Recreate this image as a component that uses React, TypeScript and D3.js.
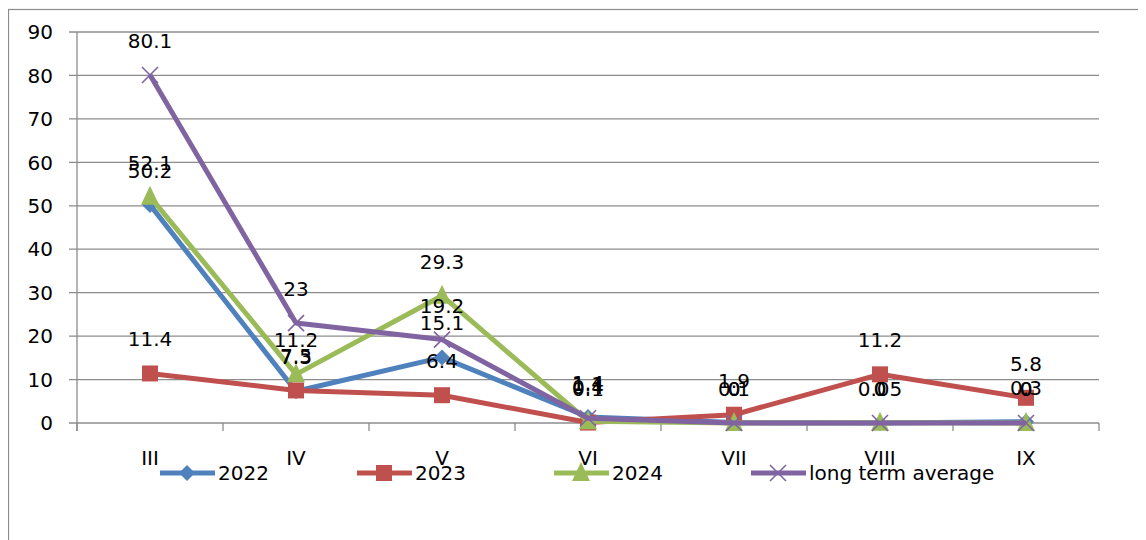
import React from "react";
import * as d3 from "d3";

const months = ["III", "IV", "V", "VI", "VII", "VIII", "IX"];
const values2022 = [50.2, 7.3, 15.1, 1.4, 0.1, 0, 0.3];
const values2023 = [11.4, 7.5, 6.4, 0.1, 1.9, 11.2, 5.8];
const values2024 = [52.1, 11.2, 29.3, 0.4, 0, 0.05, 0];
const valuesLongTerm = [80.1, 23, 19.2, 1.1, 0, 0, 0];
const yTicks = [0, 10, 20, 30, 40, 50, 60, 70, 80, 90];

const seriesNames = ["2022", "2023", "2024", "long term average"];
const seriesColors = ["#4F81BD", "#C0504D", "#9BBB59", "#8064A2"];
const seriesMarkers = ["diamond", "square", "triangle", "cross"];
const seriesValues = [values2022, values2023, values2024, valuesLongTerm];

const FONT = "'DejaVu Sans', sans-serif";

function Marker({ kind, x, y, color }: { kind: string; x: number; y: number; color: string }) {
  if (kind === "diamond") {
    const s = 8;
    return <path d={`M${x},${y - s}L${x + s},${y}L${x},${y + s}L${x - s},${y}Z`} fill={color} />;
  }
  if (kind === "square") {
    const s = 8;
    return <rect x={x - s} y={y - s} width={2 * s} height={2 * s} fill={color} />;
  }
  if (kind === "triangle") {
    const s = 9;
    return <path d={`M${x},${y - s - 2}L${x + s},${y + s - 1}L${x - s},${y + s - 1}Z`} fill={color} />;
  }
  const s = 8;
  return (
    <path
      d={`M${x - s},${y - s}L${x + s},${y + s}M${x - s},${y + s}L${x + s},${y - s}`}
      stroke={color}
      strokeWidth={1.6}
      fill="none"
    />
  );
}

export default function App() {
  const W = 1138;
  const H = 532;
  // plot area in svg coordinates (svg sits at the 8px body offset)
  const left = 69;
  const right = 1091;
  const top = 24;
  const bottom = 415;

  const x = d3.scaleBand<string>().domain(months).range([left, right]);
  const y = d3.scaleLinear().domain([0, 90]).range([bottom, top]);
  const cx = (m: string) => (x(m) as number) + x.bandwidth() / 2;

  const line = d3
    .line<number>()
    .x((_, i) => cx(months[i]))
    .y((v) => y(v));

  const boundaries = d3.range(months.length + 1).map((i) => left + i * x.step());

  return (
    <svg width={W} height={H} style={{ display: "block" }} fontFamily={FONT}>
      <rect x={0.5} y={1.5} width={W - 4} height={H + 10} fill="#fff" stroke="#8c8c8c" strokeWidth={1.2} />

      {yTicks.map((t) => (
        <g key={t}>
          <line x1={left - 8} x2={right} y1={y(t)} y2={y(t)} stroke="#8c8c8c" strokeWidth={1.3} />
          <text x={left - 24} y={y(t)} dy="0.36em" textAnchor="end" fontSize={20} fill="#000">
            {t}
          </text>
        </g>
      ))}
      <line x1={left} x2={left} y1={top} y2={bottom + 8} stroke="#8c8c8c" strokeWidth={1.3} />
      {boundaries.map((b, i) => (
        <line key={i} x1={b} x2={b} y1={bottom} y2={bottom + 8} stroke="#8c8c8c" strokeWidth={1.3} />
      ))}
      {months.map((m) => (
        <text key={m} x={cx(m)} y={bottom + 42} textAnchor="middle" fontSize={20} fill="#000">
          {m}
        </text>
      ))}

      {seriesValues.map((vals, si) => (
        <g key={si}>
          <path d={line(vals) || ""} fill="none" stroke={seriesColors[si]} strokeWidth={5} strokeLinejoin="round" />
          {vals.map((v, i) => (
            <Marker key={i} kind={seriesMarkers[si]} x={cx(months[i])} y={y(v)} color={seriesColors[si]} />
          ))}
        </g>
      ))}

      {seriesValues.map((vals, si) =>
        vals.map((v, i) => (
          <text
            key={`${si}-${i}`}
            x={cx(months[i])}
            y={y(v) - 27}
            textAnchor="middle"
            fontSize={20}
            fill="#000"
          >
            {String(v)}
          </text>
        ))
      )}

      {seriesNames.map((name, si) => {
        const lx = 152 + si * 197;
        const ly = 465;
        return (
          <g key={name}>
            <line x1={lx} x2={lx + 55} y1={ly} y2={ly} stroke={seriesColors[si]} strokeWidth={5} />
            <Marker kind={seriesMarkers[si]} x={lx + 27} y={ly} color={seriesColors[si]} />
            <text x={lx + 58} y={ly} dy="0.36em" fontSize={20} fill="#000">
              {name}
            </text>
          </g>
        );
      })}
    </svg>
  );
}
